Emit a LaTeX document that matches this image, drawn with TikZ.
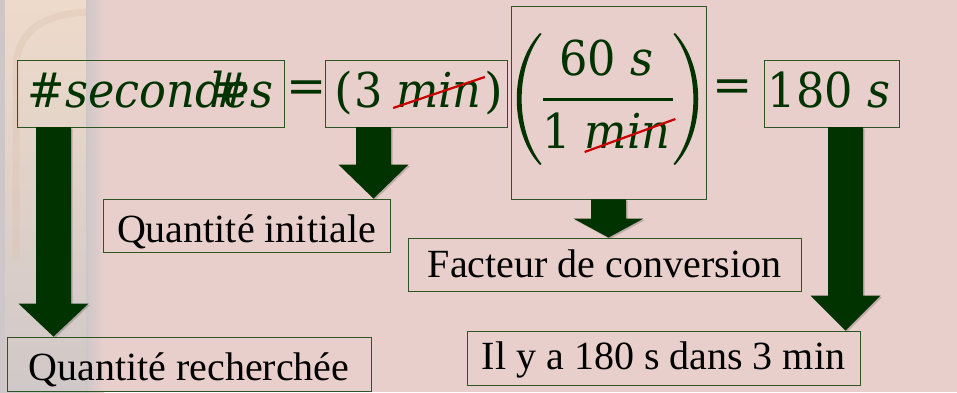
\documentclass[tikz,border=0pt]{standalone}
\usepackage{graphicx}
\usepackage{fontspec}
\setmainfont{Liberation Serif}
\newfontfamily\mathfnt{DejaVu Serif}
\usetikzlibrary{calc}
\definecolor{bgpink}{RGB}{232,207,203}
\definecolor{dgreen}{RGB}{0,51,0}
\definecolor{boxgreen}{RGB}{45,85,35}
\definecolor{strikered}{RGB}{200,0,0}
\definecolor{creamA}{RGB}{238,218,202}
\definecolor{creamB}{RGB}{244,230,210}
\definecolor{greyC}{RGB}{208,200,200}
\definecolor{greyD}{RGB}{205,199,201}
\definecolor{tanE}{RGB}{222,196,178}
\newcommand\sq[1]{\scalebox{0.93}[1]{#1}}
\newcommand\greenarrow[3]{% start, end, head length
  \fill[black,opacity=0.18] let \p1=(#1), \p2=(#2) in
    (\x1-16pt,\y1-1.5pt) -- (\x1+19pt,\y1-1.5pt) -- (\x1+19pt,\y2+#3pt-1.5pt) -- (\x1+36.5pt,\y2+#3pt-1.5pt)
    -- (\x1+1.5pt,\y2-1.5pt) -- (\x1-33.5pt,\y2+#3pt-1.5pt) -- (\x1-16pt,\y2+#3pt-1.5pt) -- cycle;
  \fill[dgreen] let \p1=(#1), \p2=(#2) in
    (\x1-17.5pt,\y1) -- (\x1+17.5pt,\y1) -- (\x1+17.5pt,\y2+#3pt) -- (\x1+35pt,\y2+#3pt)
    -- (\x1,\y2) -- (\x1-35pt,\y2+#3pt) -- (\x1-17.5pt,\y2+#3pt) -- cycle;}
\begin{document}
\begin{tikzpicture}[x=1pt,y=-1pt,
  box/.style={draw=boxgreen,line width=0.9pt,inner sep=0pt,rectangle},
  tbox/.style={box,font=\fontsize{40}{40}\selectfont,text depth=0pt,align=center},
  mtxt/.style={text=dgreen,font=\mathfnt\fontsize{48}{48}\selectfont,inner sep=0pt},
  strikeline/.style={draw=strikered,line width=2.2pt}]
\useasboundingbox (0,0) rectangle (957,392);
% background
\fill[bgpink] (0,0) rectangle (957,392);
\shade[top color=creamA,middle color=creamB,bottom color=greyC] (0,0) rectangle (87,392);
\fill[greyD] (0,0) rectangle (5,392);
\draw[tanE,line width=7pt,opacity=0.4] (16,260) -- (16,70) .. controls (16,30) and (45,14) .. (87,12);
\shade[left color=greyD,right color=bgpink] (86,0) rectangle (104,392);

% boxes
\node[box,minimum width=267pt,minimum height=67pt] (sec) at (150.5,93.5) {};
\node[box,minimum width=182pt,minimum height=67pt] (init) at (416,93.5) {};
\node[box,minimum width=195pt,minimum height=193pt] (frac) at (608.5,102.5) {};
\node[box,minimum width=135pt,minimum height=67pt] (res) at (831.5,93.5) {};

\node[tbox,minimum width=287pt,minimum height=53pt,text height=33pt] (qinit) at (246.5,225.5) {Quantité initiale};
\node[tbox,minimum width=364pt,minimum height=54pt,text height=32pt] (qrech) at (189,364) {Quantité recherchée};
\node[tbox,minimum width=393pt,minimum height=53pt,text height=25pt] (fact) at (604.5,264.5) {Facteur de conversion};
\node[tbox,minimum width=393pt,minimum height=54pt,text height=22pt] (ilya) at (663.5,358) {Il y a 180 s dans 3 min};

% math texts
\node[mtxt,anchor=base] (tsec) at (150.5,107) {\sq{\itshape\#seconde\makebox[0pt][r]{\#}s}};
\node[mtxt] (eq1) at (307,91.5) {=};
\node[mtxt,anchor=base] (ipl) at (343.5,107) {(};
\node[mtxt,anchor=base] (ithree) at (368.5,107) {\sq{3}};
\node[mtxt,anchor=base] (imin) at (439,107) {\sq{\itshape min}};
\node[mtxt,anchor=base] (ipr) at (494,107) {)};
\node[mtxt,anchor=base] (num) at (606.5,75) {\sq{60 \textit{s}}};
\node[mtxt,anchor=base] (done) at (557,148) {\sq{1}};
\node[mtxt,anchor=base] (dmin) at (627.5,148) {\sq{\itshape min}};
\node[mtxt] (eq2) at (733,91) {=};
\node[mtxt,anchor=base] (tres) at (829,107) {\sq{180 \textit{s}}};

% big parentheses and fraction bar
\fill[dgreen] (540,33) .. controls (509,66) and (509,132) .. (540,165) -- (541.5,164)
  .. controls (515,130) and (515,68) .. (541.5,34) -- cycle;
\fill[dgreen] (675,33) .. controls (706,66) and (706,132) .. (675,165) -- (673.5,164)
  .. controls (700,130) and (700,68) .. (673.5,34) -- cycle;
\fill[dgreen] (543,97.5) rectangle (673,100.5);

% strike-through lines
\draw[strikeline] ($(imin.base west)+(-3,1)$) -- ($(imin.base east)+(3,-30)$);
\draw[strikeline] ($(dmin.base west)+(0,4)$) -- ($(dmin.base east)+(5,-29)$);

% arrows
\coordinate (a1s) at (53.5,127);
\coordinate (a2s) at (373.5,127);
\coordinate (a4s) at (845.5,127);
\coordinate (a1e) at (a1s |- qrech.north);
\coordinate (a2e) at (a2s |- qinit.north);
\coordinate (a3e) at (frac.south |- fact.north);
\coordinate (a4e) at (a4s |- ilya.north);
\greenarrow{a1s}{a1e}{33}
\greenarrow{a2s}{a2e}{34}
\greenarrow{frac.south}{a3e}{19}
\greenarrow{a4s}{a4e}{35}
\end{tikzpicture}
\end{document}
